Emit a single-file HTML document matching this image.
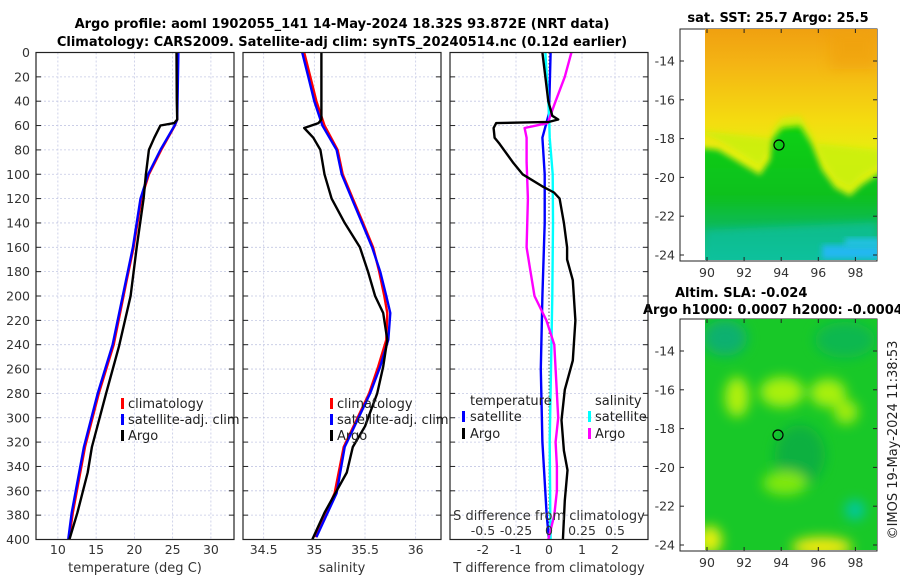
<!DOCTYPE html>
<html><head><meta charset="utf-8"><style>
html,body{margin:0;padding:0;background:#fff;}
svg{display:block;font-family:"DejaVu Sans","Liberation Sans",sans-serif;}
</style></head><body>
<svg id="fig" width="900" height="580" viewBox="0 0 900 580" xmlns="http://www.w3.org/2000/svg">
<defs>
<filter id="blur6" x="-50%" y="-50%" width="200%" height="200%"><feGaussianBlur stdDeviation="6"/></filter>
<filter id="blur4" x="-50%" y="-50%" width="200%" height="200%"><feGaussianBlur stdDeviation="4"/></filter>
<filter id="blur3" x="-20%" y="-20%" width="140%" height="140%"><feGaussianBlur stdDeviation="3"/></filter>
<linearGradient id="sstgrad" x1="0" y1="0" x2="0" y2="1">
<stop offset="0" stop-color="#f0a010"/><stop offset="0.15" stop-color="#f4b414"/><stop offset="0.4" stop-color="#f4dc10"/><stop offset="0.55" stop-color="#e6f010"/><stop offset="0.75" stop-color="#d0f010"/><stop offset="1" stop-color="#c8ee10"/>
</linearGradient>
<linearGradient id="greengrad" x1="0" y1="0" x2="0" y2="1">
<stop offset="0" stop-color="#10d010"/><stop offset="0.5" stop-color="#10c020"/><stop offset="0.75" stop-color="#08b868"/><stop offset="1" stop-color="#10c8a8"/>
</linearGradient>
<clipPath id="clipTop"><rect x="705" y="29" width="172" height="231"/></clipPath>
<clipPath id="clipBot"><rect x="705" y="319" width="172" height="231"/></clipPath>
</defs>
<g id="titles">
<text x="342" y="28" text-anchor="middle" font-size="13" font-weight="bold">Argo profile: aoml 1902055_141 14-May-2024 18.32S 93.872E (NRT data)</text>
<text x="342" y="46" text-anchor="middle" font-size="13" font-weight="bold">Climatology: CARS2009. Satellite-adj clim: synTS_20240514.nc (0.12d earlier)</text>
<text x="778" y="22" text-anchor="middle" font-size="13" font-weight="bold">sat. SST: 25.7 Argo: 25.5</text>
<text x="675" y="297" font-size="13" font-weight="bold">Altim. SLA: -0.024</text>
<text x="643" y="314" font-size="13" font-weight="bold">Argo h1000: 0.0007 h2000: -0.0004</text>
<text transform="translate(897,440) rotate(-90)" text-anchor="middle" font-size="13" fill="#222">©IMOS 19-May-2024 11:38:53</text>
</g>
<g id="panels"></g>
<g id="maps">
<rect x="680" y="29" width="197" height="232" fill="#fff" stroke="#222" stroke-width="1"/>
<g clip-path="url(#clipTop)">
<rect x="705" y="29" width="172" height="231" fill="url(#sstgrad)"/>
<rect x="830" y="29" width="47" height="40" fill="#f0a010" opacity="0.6" filter="url(#blur6)"/>
<path d="M695,130 L718,140 L735,150 L748,158 L760,165 L770,150 L772,130 L782,118 L800,116 L812,135 L822,160 L835,178 L850,186 L862,175 L890,160 L890,150 L877,150 Z" fill="#c8f010" opacity="0.8" filter="url(#blur3)"/>
<path d="M700,148 L718,150 L735,160 L748,168 L760,175 L770,160 L772,140 L782,128 L800,126 L812,145 L822,170 L835,188 L850,196 L862,185 L885,170 L885,270 L700,270 Z" fill="url(#greengrad)" filter="url(#blur3)"/>
<path d="M705,230 L877,222 L877,262 L705,262Z" fill="#08c0a0" opacity="0.7" filter="url(#blur4)"/>
<rect x="822" y="245" width="58" height="14" fill="#20b8f0" filter="url(#blur3)"/>
<rect x="845" y="238" width="35" height="10" fill="#20c0e0" filter="url(#blur3)"/>
</g>
<circle cx="779" cy="145" r="5" fill="none" stroke="#000" stroke-width="1.2"/>
<rect x="680" y="319" width="197" height="232" fill="#fff" stroke="#222" stroke-width="1"/>
<g clip-path="url(#clipBot)">
<rect x="705" y="319" width="172" height="231" fill="#18c828"/>
<g filter="url(#blur6)">
<ellipse cx="725" cy="338" rx="22" ry="18" fill="#10b070"/>
<ellipse cx="800" cy="455" rx="25" ry="30" fill="#10b040"/>
<ellipse cx="845" cy="340" rx="30" ry="18" fill="#10b850"/>
<ellipse cx="737" cy="397" rx="12" ry="20" fill="#b0f010"/>
<ellipse cx="782" cy="392" rx="22" ry="15" fill="#a8f010"/>
<ellipse cx="828" cy="393" rx="18" ry="14" fill="#a8f010"/>
<ellipse cx="846" cy="412" rx="12" ry="12" fill="#a0ec10"/>
<ellipse cx="785" cy="483" rx="22" ry="12" fill="#80e810"/>
<ellipse cx="710" cy="540" rx="12" ry="14" fill="#e8f010"/>
<ellipse cx="822" cy="547" rx="30" ry="10" fill="#f0e810"/>
<ellipse cx="855" cy="510" rx="10" ry="10" fill="#00c8a0"/>
</g>
</g>
<circle cx="778" cy="435" r="5" fill="none" stroke="#000" stroke-width="1.2"/>
</g>
</svg>
<script>
const tDepthArgo = [0,40,55,58,60,70,80,100,120,160,200,241,280,324,345,378,400];
const tArgo      = [25.5,25.55,25.6,25.2,23.4,22.6,21.9,21.5,21.2,20.3,19.5,18.0,16.3,14.45,13.9,12.55,11.5];
const tDepthClim = [0,55,60,80,100,120,160,187,240,280,324,378,400];
const tClim      = [25.65,25.6,25.3,23.5,21.9,20.9,19.9,19.0,17.3,15.35,13.55,11.95,11.45];
const tSat       = [25.75,25.6,25.25,23.4,21.8,20.8,19.8,18.9,17.15,15.2,13.4,11.8,11.35];

const sDepthArgo = [0,55,58,62,70,80,100,120,140,160,180,200,214,236,258,280,307,324,345,378,400];
const sArgo      = [35.07,35.07,35.04,34.9,34.99,35.06,35.1,35.17,35.3,35.45,35.53,35.6,35.68,35.72,35.68,35.62,35.5,35.38,35.32,35.1,34.98];
const sDepthClim = [0,20,40,60,80,100,120,140,160,180,200,214,236,258,280,324,362,398];
const sClim      = [34.9,34.96,35.02,35.1,35.23,35.28,35.38,35.48,35.58,35.64,35.69,35.72,35.71,35.63,35.54,35.29,35.2,35.01];
const sSat       = [34.88,34.94,35.0,35.08,35.22,35.27,35.37,35.47,35.57,35.65,35.71,35.75,35.73,35.65,35.55,35.3,35.22,35.02];

const dDepthT   = [0,40,52,55,57,58,62,70,75,90,100,110,115,120,140,160,170,187,220,253,277,302,327,343,368,400];
const dTArgo    = [-0.2,-0.02,0.1,0.28,0,-1.6,-1.68,-1.65,-1.5,-1.1,-0.8,-0.2,0.15,0.32,0.45,0.55,0.55,0.72,0.8,0.72,0.48,0.38,0.45,0.56,0.48,0.42];
const dDepthSat = [0,50,70,100,140,200,260,320,380,400];
const dTSat     = [0.05,0,-0.2,-0.13,-0.13,-0.2,-0.25,-0.2,-0.07,0];
const dSSat     = [-0.027,0.0,0.005,0.028,0.03,0.025,0.015,0.005,0.01,0.012];
const dDepthS   = [0,20,40,55,58,62,70,90,120,160,180,200,220,240,260,280,300,320,340,360,380,400];
const dSArgo    = [0.17,0.12,0.05,0,-0.01,-0.185,-0.17,-0.17,-0.16,-0.17,-0.14,-0.11,-0.02,0.04,0.05,0.06,0.07,0.05,0.06,0.06,0.04,-0.005];

const depthTicks = [0,20,40,60,80,100,120,140,160,180,200,220,240,260,280,300,320,340,360,380,400];
const tTicks = [10,15,20,25,30];
const sTicks = [34.5,35,35.5,36];
const dTTicks = [-2,-1,0,1,2];
const dSTickLabels = ["-0.5","-0.25","0","0.25","0.5"];
const dSTickVals = [-0.5,-0.25,0,0.25,0.5];
const mapXTicks = [90,92,94,96,98];
const mapYTicks = [-14,-16,-18,-20,-22,-24];

const NS = "http://www.w3.org/2000/svg";
const root = document.getElementById('panels');
function mk(tag, attrs, parent){
  const e = document.createElementNS(NS, tag);
  for (const k in attrs) e.setAttribute(k, attrs[k]);
  (parent||root).appendChild(e);
  return e;
}
const Y0 = 52.5, Y1 = 539.5;
function yD(d){ return Y0 + d/400*(Y1-Y0); }

function panel(x0, x1, vmin, vmax, name){
  const sx = v => x0 + (v - vmin)/(vmax - vmin)*(x1 - x0);
  const g = mk('g', {});
  
  
  return {x0, x1, sx, g};
}
function grid(p, xticks){
  xticks.forEach(v => {
    const l = mk('line', {x1:p.sx(v), x2:p.sx(v), y1:Y0, y2:Y1, stroke:'#c4c8e4', 'stroke-width':0.8, 'stroke-dasharray':'2,2'}, p.g);
    
    
  });
  depthTicks.forEach(d => {
    const l = mk('line', {x1:p.x0, x2:p.x1, y1:yD(d), y2:yD(d), stroke:'#c4c8e4', 'stroke-width':0.8, 'stroke-dasharray':'2,2'}, p.g);
    
    
    mk('line', {x1:p.x0, x2:p.x0+5, y1:yD(d), y2:yD(d), stroke:'#222'}, p.g);
    mk('line', {x1:p.x1-5, x2:p.x1, y1:yD(d), y2:yD(d), stroke:'#222'}, p.g);
  });
}
function frame(p){
  const r = mk('rect', {x:p.x0, y:Y0, width:p.x1-p.x0, height:Y1-Y0, fill:'none', stroke:'#222', 'stroke-width':1.2}, p.g);
  
  
}
function xlabels(p, ticks, labels, y){
  ticks.forEach((v,i) => {
    const t = mk('text', {x:p.sx(v), y:y, 'text-anchor':'middle', 'font-size':12.5, fill:'#333'}, p.g);
    t.textContent = labels ? labels[i] : String(v);
    
    
  });
}
function line(p, xs, ds, color, name, sx){
  const f = sx || p.sx;
  const pts = xs.map((v,i) => f(v).toFixed(1)+','+yD(ds[i]).toFixed(1)).join(' ');
  const l = mk('polyline', {points:pts, fill:'none', stroke:color, 'stroke-width':2.4, 'stroke-linejoin':'round'}, p.g);
  
  
}
function text(p, x, y, s, name, extra){
  const t = mk('text', Object.assign({x:x, y:y, 'font-size':13, fill:'#222'}, extra||{}), p.g);
  t.textContent = s;
  
  
  return t;
}
function marker(p, x, y, color){
  const m = mk('rect', {x:x, y:y-11, width:3, height:11, fill:color}, p.g);
  
  
}

const p1 = panel(36, 234, 7.14, 33.02, 'temperature-panel');
grid(p1, tTicks);
line(p1, tClim, tDepthClim, '#ff0000', 'climatology-temperature-line');
line(p1, tSat, tDepthClim, '#0000ff', 'satellite-temperature-line');
line(p1, tArgo, tDepthArgo, '#000000', 'argo-temperature-line');
frame(p1);
depthTicks.forEach(d => {
  text(p1, 30, yD(d)+4.5, String(d), 'y-tick-label', {'text-anchor':'end', 'font-size':12.5, fill:'#333'});
});
xlabels(p1, tTicks, null, 554);
text(p1, 135, 572, 'temperature (deg C)', 'x-axis-title', {'text-anchor':'middle', fill:'#333'});
marker(p1, 121, 409, '#ff0000'); text(p1, 128, 408, 'climatology', 'legend-entry-climatology');
marker(p1, 121, 425, '#0000ff'); text(p1, 128, 424, 'satellite-adj. clim', 'legend-entry-satellite');
marker(p1, 121, 441, '#000000'); text(p1, 128, 440, 'Argo', 'legend-entry-argo');

const p2 = panel(243, 441, 34.296, 36.25, 'salinity-panel');
grid(p2, sTicks);
line(p2, sClim, sDepthClim, '#ff0000', 'climatology-salinity-line');
line(p2, sSat, sDepthClim, '#0000ff', 'satellite-salinity-line');
line(p2, sArgo, sDepthArgo, '#000000', 'argo-salinity-line');
frame(p2);
xlabels(p2, sTicks, null, 554);
text(p2, 342, 572, 'salinity', 'x-axis-title', {'text-anchor':'middle', fill:'#333'});
marker(p2, 330, 409, '#ff0000'); text(p2, 337, 408, 'climatology', 'legend-entry-climatology');
marker(p2, 330, 425, '#0000ff'); text(p2, 337, 424, 'satellite-adj. clim', 'legend-entry-satellite');
marker(p2, 330, 441, '#000000'); text(p2, 337, 440, 'Argo', 'legend-entry-argo');

const p3 = panel(450, 648, -3, 3, 'difference-panel');
const sxS = v => p3.sx(v*4);
grid(p3, dTTicks.filter(v => v !== 0));
const zl = mk('line', {x1:p3.sx(0), x2:p3.sx(0), y1:Y0, y2:Y1, stroke:'#555', 'stroke-width':1, 'stroke-dasharray':'1.5,2'}, p3.g);


line(p3, dTSat, dDepthSat, '#0000ff', 'satellite-temperature-difference-line');
line(p3, dSSat, dDepthSat, '#00ffff', 'satellite-salinity-difference-line', sxS);
line(p3, dSArgo, dDepthS, '#ff00ff', 'argo-salinity-difference-line', sxS);
line(p3, dTArgo, dDepthT, '#000000', 'argo-temperature-difference-line');
frame(p3);
xlabels(p3, dTTicks, null, 554);
text(p3, 549, 572, 'T difference from climatology', 'x-axis-title', {'text-anchor':'middle', fill:'#333'});
text(p3, 549, 520, 'S difference from climatology', 'secondary-axis-title', {'text-anchor':'middle', fill:'#333'});
dSTickVals.forEach((v,i) => {
  text(p3, sxS(v), 535, dSTickLabels[i], 'secondary-x-tick-label', {'text-anchor':'middle', 'font-size':12.5, fill:'#333'});
});
text(p3, 470, 405, 'temperature', 'legend-header-temperature');
marker(p3, 462, 422, '#0000ff'); text(p3, 470, 421, 'satellite', 'legend-entry-t-satellite');
marker(p3, 462, 439, '#000000'); text(p3, 470, 438, 'Argo', 'legend-entry-t-argo');
text(p3, 595, 405, 'salinity', 'legend-header-salinity');
marker(p3, 588, 422, '#00ffff'); text(p3, 595, 421, 'satellite', 'legend-entry-s-satellite');
marker(p3, 588, 439, '#ff00ff'); text(p3, 595, 438, 'Argo', 'legend-entry-s-argo');

const maps = document.getElementById('maps');
function mapAxes(top, bottom, yOfLat, name){
  const lx = lon => 707 + (lon-90)*18.55;
  mapXTicks.forEach(v => {
    mk('line', {x1:lx(v), x2:lx(v), y1:top, y2:top+4, stroke:'#222'}, maps);
    mk('line', {x1:lx(v), x2:lx(v), y1:bottom-4, y2:bottom, stroke:'#222'}, maps);
    const t = mk('text', {x:lx(v), y:bottom+16, 'text-anchor':'middle', 'font-size':12.5, fill:'#333'}, maps);
    t.textContent = String(v);
    
    
  });
  mapYTicks.forEach(v => {
    const y = yOfLat(v);
    mk('line', {x1:680, x2:684, y1:y, y2:y, stroke:'#222'}, maps);
    mk('line', {x1:873, x2:877, y1:y, y2:y, stroke:'#222'}, maps);
    const t = mk('text', {x:675, y:y+4.5, 'text-anchor':'end', 'font-size':12.5, fill:'#333'}, maps);
    t.textContent = String(v);
    
    
  });
}
mapAxes(29, 261, lat => 61 + (-14 - lat)*19.4, 'sst-map');
mapAxes(319, 551, lat => 351 + (-14 - lat)*19.4, 'sla-map');
</script>
</body></html>
